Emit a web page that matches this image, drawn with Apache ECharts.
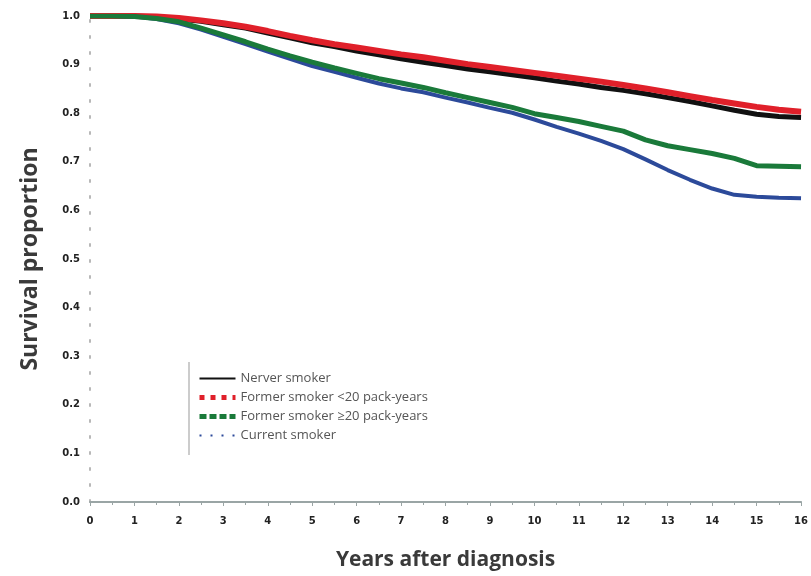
<!DOCTYPE html>
<html>
<head>
<meta charset="utf-8">
<script src="https://cdn.jsdelivr.net/npm/echarts@6/dist/echarts.min.js"></script>
<style>html,body{margin:0;padding:0;background:#fff;}#c{width:811px;height:576px;}</style>
</head>
<body>
<div id="c"></div>
<script>
var years = [0,0.5,1,1.5,2,2.5,3,3.5,4,4.5,5,5.5,6,6.5,7,7.5,8,8.5,9,9.5,10,10.5,11,11.5,12,12.5,13,13.5,14,14.5,15,15.5,16];
var neverSmoker = [1,1,1,0.998,0.994,0.989,0.982,0.975,0.965,0.955,0.945,0.937,0.928,0.92,0.912,0.905,0.898,0.891,0.885,0.879,0.873,0.866,0.86,0.853,0.847,0.84,0.832,0.824,0.815,0.806,0.798,0.793,0.791];
var formerLt20 = [1,1,1,0.999,0.996,0.991,0.985,0.978,0.969,0.959,0.95,0.942,0.935,0.928,0.921,0.915,0.908,0.901,0.895,0.889,0.883,0.877,0.871,0.865,0.858,0.851,0.843,0.835,0.827,0.82,0.813,0.807,0.803];
var formerGe20 = [1,1,0.999,0.995,0.988,0.975,0.961,0.947,0.932,0.918,0.905,0.893,0.882,0.871,0.862,0.853,0.842,0.832,0.822,0.812,0.799,0.791,0.783,0.773,0.763,0.745,0.733,0.725,0.717,0.707,0.692,0.691,0.69];
var currentSmoker = [1,1,0.999,0.994,0.985,0.972,0.957,0.942,0.927,0.912,0.897,0.885,0.873,0.861,0.851,0.843,0.832,0.822,0.811,0.801,0.787,0.772,0.758,0.743,0.726,0.705,0.683,0.663,0.645,0.632,0.628,0.626,0.625];
var seriesNames = ['Nerver smoker','Former smoker <20 pack-years','Former smoker \u226520 pack-years','Current smoker'];
var yTickLabels = ['0.0','0.1','0.2','0.3','0.4','0.5','0.6','0.7','0.8','0.9','1.0'];

function pairs(v){ return years.map(function(x,i){ return [x, v[i]]; }); }

var chart = echarts.init(document.getElementById('c'));
chart.setOption({
  animation: false,
  backgroundColor: '#fff',
  grid: {left: 90, right: 4, top: 16, bottom: 74},
  xAxis: {
    type: 'value', min: 0, max: 16, interval: 1,
    name: 'Years after diagnosis', nameLocation: 'middle', nameGap: 48,
    nameTextStyle: {fontFamily: 'Open Sans', fontWeight: 'bold', fontSize: 21, color: '#3a3a3a'},
    axisLine: {show: true, lineStyle: {color: '#9aa5a5', width: 2}},
    axisTick: {show: true, length: 4, lineStyle: {color: '#9aa5a5'}},
    minorTick: {show: true, splitNumber: 2, length: 3, lineStyle: {color: '#9aa5a5'}},
    splitLine: {show: false},
    axisLabel: {fontFamily: 'DejaVu Sans', fontWeight: 'bold', fontSize: 10, color: '#222', margin: 14}
  },
  yAxis: {
    type: 'value', min: 0, max: 1, interval: 0.1,
    name: 'Survival proportion', nameLocation: 'middle', nameGap: 48,
    nameTextStyle: {fontFamily: 'Open Sans', fontWeight: 'bold', fontSize: 23, color: '#3a3a3a'},
    axisLine: {show: true, lineStyle: {color: '#b8b8b8', width: 2, type: [2, 14]}},
    axisTick: {show: false},
    splitLine: {show: false},
    axisLabel: {fontFamily: 'DejaVu Sans', fontWeight: 'bold', fontSize: 10, color: '#222', margin: 10,
      formatter: function(v){ return yTickLabels[Math.round(v*10)]; }}
  },
  legend: {
    orient: 'vertical', left: 192, top: 367, itemGap: 6, itemWidth: 36, itemHeight: 12,
    textStyle: {fontFamily: 'Open Sans', fontSize: 13, color: '#555'},
    data: [
      {name: seriesNames[0], itemStyle: {opacity: 0}, lineStyle: {width: 2, color: '#111', type: 'solid'}},
      {name: seriesNames[1], itemStyle: {opacity: 0}, lineStyle: {width: 5, color: '#e0202a', type: [5, 6]}},
      {name: seriesNames[2], itemStyle: {opacity: 0}, lineStyle: {width: 5, color: '#1a7a3a', type: [7, 3]}},
      {name: seriesNames[3], itemStyle: {opacity: 0}, lineStyle: {width: 2, color: '#2c4a9a', type: [2, 9]}}
    ]
  },
  graphic: [{type: 'line', shape: {x1: 189, y1: 362, x2: 189, y2: 455}, style: {stroke: '#bbb', lineWidth: 1.5}, silent: true}],
  series: [
    {name: seriesNames[0], type: 'line', showSymbol: false, data: pairs(neverSmoker), lineStyle: {color: '#111', width: 5}, itemStyle: {color: '#111'}, z: 2},
    {name: seriesNames[1], type: 'line', showSymbol: false, data: pairs(formerLt20), lineStyle: {color: '#e0202a', width: 6}, itemStyle: {color: '#e0202a'}, z: 3},
    {name: seriesNames[3], type: 'line', showSymbol: false, data: pairs(currentSmoker), lineStyle: {color: '#2c4a9a', width: 4}, itemStyle: {color: '#2c4a9a'}, z: 4},
    {name: seriesNames[2], type: 'line', showSymbol: false, data: pairs(formerGe20), lineStyle: {color: '#1a7a3a', width: 5}, itemStyle: {color: '#1a7a3a'}, z: 5}
  ]
});
</script>
</body>
</html>
